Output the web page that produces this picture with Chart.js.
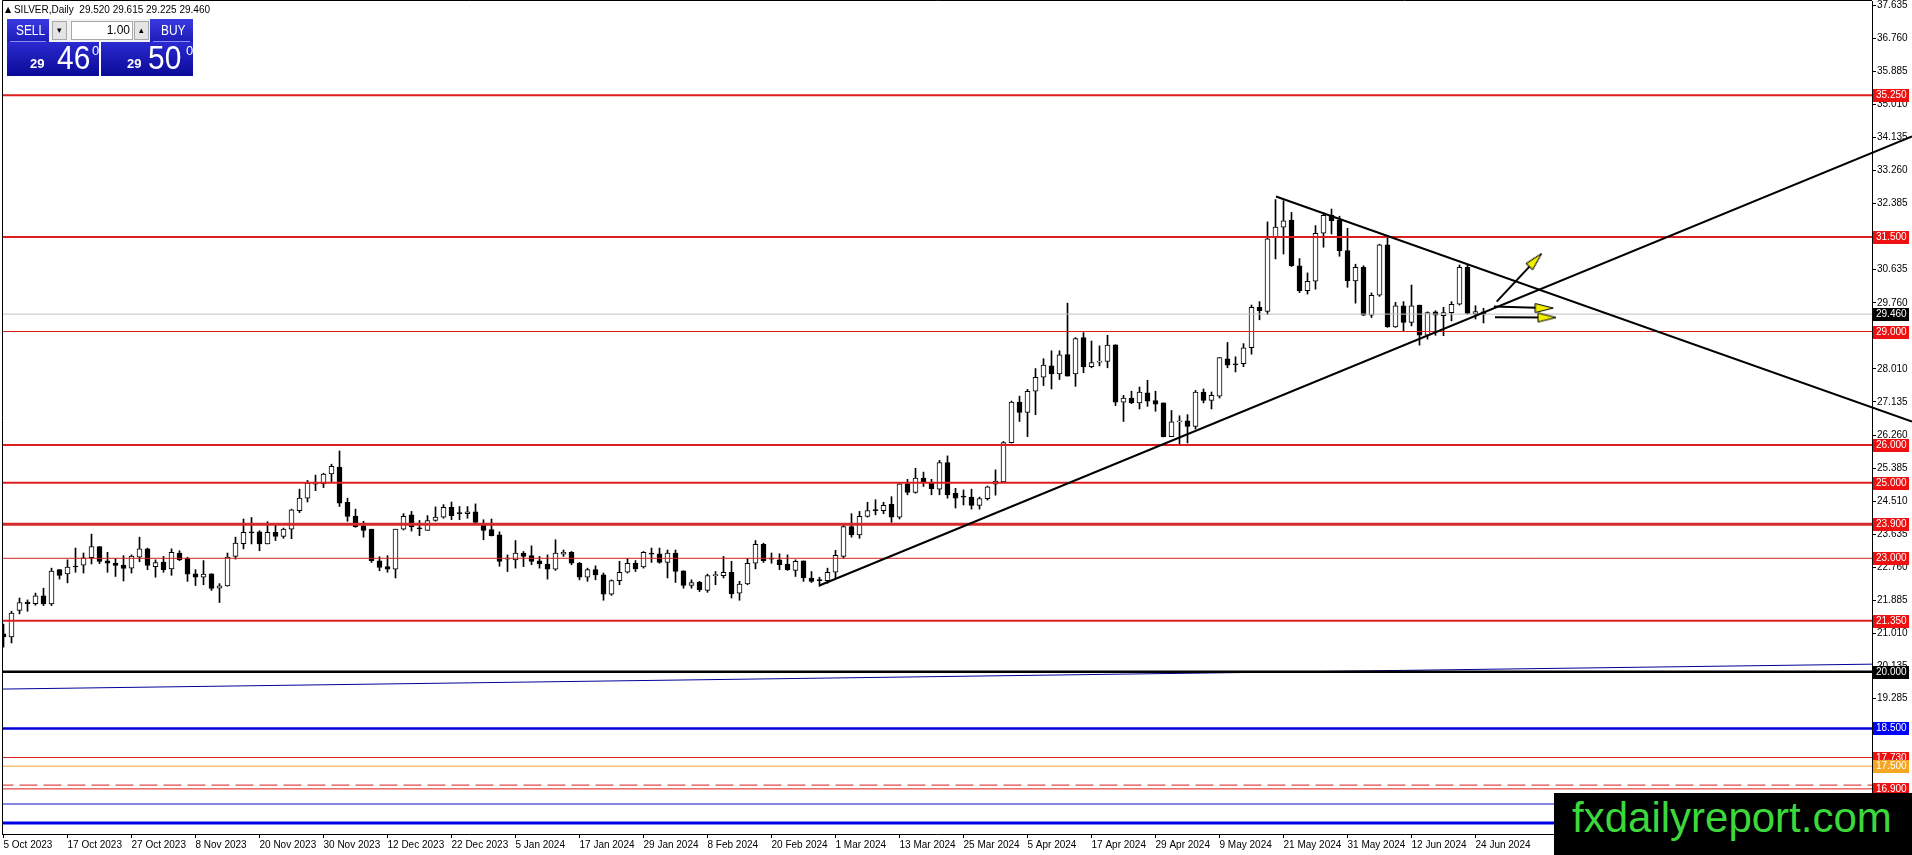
<!DOCTYPE html>
<html>
<head>
<meta charset="utf-8">
<title>SILVER, Daily</title>
<script src="https://cdn.jsdelivr.net/npm/chart.js@4.4.1/dist/chart.umd.min.js"></script>
<style>
  html, body { margin: 0; padding: 0; background: #fff; }
  body { width: 1912px; height: 855px; overflow: hidden; position: relative; font-family: "Liberation Sans", Arial, sans-serif; }
  #chart { position: absolute; left: 0; top: 0; }
  #header { position: absolute; left: 5px; top: 3px; font-size: 10px; line-height: 13px; color: #000; white-space: pre; }
  #header .tri { font-family: "DejaVu Sans", sans-serif; font-size: 8px; vertical-align: 1px; }
  #panel { position: absolute; left: 6px; top: 18px; width: 188px; height: 59px; }
  #panel .btn { position: absolute; top: 1px; height: 23px; color: #fff; background: linear-gradient(#3a3ae2, #1c1cb6); }
  #panel .btn span { position: absolute; top: 4px; font-size: 14px; line-height: 15px; transform: scaleX(0.85); transform-origin: left top; }
  #panel .btn i { position: absolute; left: 3px; right: 3px; bottom: 0; height: 1px; background: #8c8cf0; }
  #sell { left: 1px; width: 42px; }
  #sell span { left: 9px; }
  #buy { left: 144px; width: 43px; }
  #buy span { left: 11px; }
  #mid { position: absolute; left: 43px; top: 1px; width: 101px; height: 23px; background: #f2f2f2; }
  #mid .spin { position: absolute; top: 2px; width: 13px; height: 17px; background: #e4e4e4; border: 1px solid #a8a8a8; font-size: 9px; line-height: 17px; text-align: center; color: #000; }
  #dn { left: 3px; }
  #up { left: 85px; }
  #lot { position: absolute; left: 22px; top: 2px; width: 58px; height: 17px; background: #fff; border: 1px solid #a8a8a8; font-size: 12px; line-height: 17px; text-align: right; padding-right: 2px; box-sizing: content-box; }
  #panel .big { position: absolute; top: 24px; height: 34px; color: #fff; background: linear-gradient(#2a2ad0, #0a0a98); }
  #bidBox { left: 1px; width: 92px; }
  #askBox { left: 95px; width: 92px; }
  .big span { position: absolute; line-height: 1; white-space: nowrap; }
  .big .s { font-size: 13px; top: 15px; font-weight: bold; }
  .big .l { font-size: 34px; top: -2px; transform: scaleX(0.88); transform-origin: left top; }
  .big .p { font-size: 13px; top: 2px; }
  #brand { position: absolute; left: 1554px; top: 793px; width: 358px; height: 62px; background: #000; }
  #brand span { position: absolute; left: 18px; top: 4px; font-size: 42px; line-height: 42px; color: #3cd83c; white-space: nowrap; }
</style>
</head>
<body>
<canvas id="chart" width="1912" height="855"></canvas>
<div id="header"><span class="tri">&#9650;</span> SILVER,Daily  29.520 29.615 29.225 29.460</div>
<div id="panel">
  <div class="btn" id="sell"><span>SELL</span><i></i></div>
  <div id="mid">
    <div class="spin" id="dn">&#9662;</div>
    <div id="lot">1.00</div>
    <div class="spin" id="up">&#9652;</div>
  </div>
  <div class="btn" id="buy"><span>BUY</span><i></i></div>
  <div class="big" id="bidBox"><span class="s" style="left:23px">29</span><span class="l" style="left:50px">46</span><span class="p" style="left:85px">0</span></div>
  <div class="big" id="askBox"><span class="s" style="left:26px">29</span><span class="l" style="left:47px">50</span><span class="p" style="left:85px">0</span></div>
</div>
<div id="brand"><span>fxdailyreport.com</span></div>
<script>
// Daily candles, 5 Oct 2023 .. 25 Jun 2024 (bar index = position on the x axis)
var opens = [
  21.00, 20.92, 21.62, 21.84, 21.80, 22.01, 21.79, 22.70, 22.59, 22.79,
  22.82, 23.02, 23.31, 22.93, 22.87, 22.82, 22.74, 23.03, 23.25, 22.78,
  22.90, 22.72, 23.14, 23.00, 22.59, 22.50, 22.59, 22.21, 22.27, 23.05,
  23.39, 23.70, 23.70, 23.38, 23.69, 23.58, 23.77, 24.26, 24.59, 24.96,
  24.97, 25.23, 25.41, 24.48, 24.12, 23.86, 23.77, 22.93, 22.78, 22.71,
  23.77, 24.15, 23.80, 23.74, 24.00, 24.09, 24.35, 24.20, 24.18, 24.23,
  23.89, 23.76, 23.62, 22.98, 22.96, 23.14, 23.07, 22.93, 22.85, 22.71,
  23.11, 23.16, 22.87, 22.50, 22.70, 22.56, 22.05, 22.41, 22.63, 22.87,
  22.77, 23.13, 23.12, 22.89, 23.14, 22.67, 22.28, 22.37, 22.15, 22.54,
  22.54, 22.63, 22.08, 22.32, 22.87, 23.37, 23.00, 22.96, 22.85, 22.68,
  22.93, 22.48, 22.43, 22.41, 22.63, 23.05, 23.84, 23.62, 24.11, 24.27,
  24.26, 24.43, 24.09, 24.97, 24.74, 25.12, 24.99, 24.83, 25.53, 24.72,
  24.63, 24.62, 24.40, 24.58, 24.96, 25.02, 26.06, 27.13, 26.86, 27.42,
  27.79, 28.09, 27.88, 28.39, 27.88, 28.84, 28.07, 28.19, 28.21, 28.65,
  27.13, 27.24, 27.11, 27.38, 27.17, 27.11, 26.22, 26.61, 26.64, 26.49,
  27.40, 27.18, 27.29, 28.28, 28.14, 28.15, 28.57, 29.64, 29.53, 31.49,
  31.76, 31.95, 30.74, 30.08, 30.33, 31.60, 32.07, 31.95, 31.14, 30.34,
  30.70, 29.43, 29.96, 31.29, 29.12, 29.68, 29.24, 29.70, 28.90, 29.52,
  29.42, 29.50, 29.72, 30.70, 29.46, 29.52
];
var highs = [
  21.26, 21.60, 21.95, 21.90, 22.08, 22.21, 22.74, 22.70, 22.96, 23.27,
  23.14, 23.64, 23.31, 23.16, 23.00, 23.07, 23.09, 23.56, 23.27, 22.96,
  23.05, 23.25, 23.20, 23.03, 22.70, 22.94, 22.59, 22.33, 23.14, 23.56,
  24.04, 24.08, 23.73, 23.97, 23.91, 23.80, 24.30, 24.83, 25.06, 25.20,
  25.25, 25.49, 25.84, 24.59, 24.30, 23.98, 23.77, 23.04, 23.07, 23.77,
  24.18, 24.24, 24.00, 24.13, 24.36, 24.42, 24.49, 24.37, 24.37, 24.44,
  24.02, 24.04, 23.70, 23.09, 23.47, 23.18, 23.33, 23.05, 23.09, 23.49,
  23.22, 23.18, 22.89, 22.74, 22.80, 22.61, 22.43, 22.92, 23.00, 22.94,
  23.18, 23.27, 23.27, 23.22, 23.22, 22.67, 22.43, 22.39, 22.58, 22.65,
  23.05, 22.92, 22.39, 23.00, 23.47, 23.40, 23.14, 23.12, 23.09, 22.96,
  22.93, 22.65, 22.50, 22.74, 23.21, 23.89, 24.18, 24.24, 24.48, 24.55,
  24.48, 24.63, 25.00, 25.09, 25.38, 25.28, 25.09, 25.59, 25.71, 24.85,
  24.81, 24.83, 24.62, 24.91, 25.34, 26.09, 27.16, 27.29, 27.47, 28.02,
  28.28, 28.49, 28.49, 29.75, 28.84, 28.97, 28.75, 28.62, 28.90, 28.65,
  27.31, 27.42, 27.53, 27.71, 27.42, 27.11, 26.91, 26.77, 26.80, 27.44,
  27.48, 27.40, 28.31, 28.71, 28.33, 28.68, 29.70, 29.79, 31.90, 32.49,
  32.46, 32.15, 30.93, 30.55, 31.80, 32.14, 32.24, 32.05, 31.73, 30.78,
  30.74, 30.02, 31.31, 31.49, 29.77, 29.79, 30.23, 29.70, 29.52, 29.55,
  29.64, 29.79, 30.76, 30.78, 29.68, 29.615
];
var lows = [
  20.65, 20.76, 21.53, 21.60, 21.76, 21.75, 21.75, 22.45, 22.35, 22.63,
  22.61, 22.85, 22.86, 22.63, 22.52, 22.40, 22.61, 22.91, 22.70, 22.50,
  22.63, 22.55, 22.94, 22.39, 22.28, 22.30, 22.15, 21.83, 22.26, 22.98,
  23.25, 23.38, 23.20, 23.38, 23.47, 23.53, 23.52, 24.21, 24.49, 24.79,
  24.87, 25.00, 24.37, 23.98, 23.82, 23.56, 22.89, 22.67, 22.63, 22.48,
  23.75, 23.72, 23.60, 23.74, 23.98, 24.06, 24.02, 24.02, 24.06, 23.93,
  23.49, 23.59, 22.79, 22.65, 22.74, 22.78, 22.83, 22.74, 22.45, 22.68,
  23.05, 22.83, 22.43, 22.39, 22.43, 21.89, 22.02, 22.30, 22.61, 22.65,
  22.74, 22.89, 22.87, 22.48, 22.36, 22.21, 22.21, 22.12, 22.10, 22.30,
  22.48, 21.95, 21.89, 22.30, 22.72, 22.89, 22.87, 22.70, 22.68, 22.52,
  22.39, 22.36, 22.26, 22.34, 22.48, 23.00, 23.56, 23.53, 24.09, 24.15,
  24.18, 23.95, 24.04, 24.68, 24.72, 24.90, 24.68, 24.68, 24.59, 24.33,
  24.41, 24.30, 24.30, 24.54, 24.67, 25.02, 26.05, 26.62, 26.22, 26.80,
  27.57, 27.48, 27.73, 27.82, 27.55, 27.91, 28.04, 28.09, 28.04, 27.04,
  26.62, 27.09, 26.95, 27.02, 26.89, 26.21, 26.22, 25.98, 26.05, 26.42,
  27.11, 26.95, 27.24, 28.04, 27.93, 28.07, 28.40, 29.31, 29.45, 30.92,
  31.05, 30.72, 30.03, 29.99, 30.12, 31.23, 31.58, 30.99, 30.17, 29.75,
  29.42, 29.37, 29.93, 29.11, 29.11, 29.02, 29.15, 28.64, 28.80, 28.90,
  28.89, 29.28, 29.70, 29.46, 29.33, 29.225
];
var closes = [
  20.92, 21.55, 21.83, 21.80, 22.01, 21.79, 22.66, 22.55, 22.77, 22.77,
  23.01, 23.31, 22.92, 22.87, 22.81, 22.73, 23.06, 23.25, 22.81, 22.89,
  22.70, 23.16, 22.96, 22.58, 22.50, 22.58, 22.20, 22.27, 23.03, 23.40,
  23.69, 23.67, 23.38, 23.69, 23.58, 23.77, 24.28, 24.59, 24.99, 25.01,
  25.23, 25.43, 24.46, 24.11, 23.84, 23.74, 22.94, 22.76, 22.71, 23.77,
  24.11, 23.83, 23.78, 24.00, 24.09, 24.35, 24.13, 24.18, 24.23, 23.95,
  23.74, 23.60, 22.92, 23.00, 23.14, 23.05, 22.92, 22.85, 22.71, 23.14,
  23.16, 22.87, 22.50, 22.70, 22.56, 22.05, 22.41, 22.63, 22.87, 22.72,
  23.16, 23.11, 22.89, 23.14, 22.65, 22.28, 22.36, 22.17, 22.54, 22.57,
  22.63, 22.06, 22.32, 22.87, 23.37, 22.94, 22.98, 22.83, 22.70, 22.92,
  22.48, 22.39, 22.41, 22.63, 23.08, 23.84, 23.62, 24.11, 24.26, 24.26,
  24.40, 24.09, 24.97, 24.74, 25.12, 25.00, 24.84, 25.53, 24.68, 24.59,
  24.62, 24.40, 24.58, 24.89, 25.04, 26.06, 27.13, 26.86, 27.42, 27.79,
  28.11, 27.88, 28.38, 27.82, 28.81, 28.06, 28.18, 28.21, 28.64, 27.13,
  27.24, 27.11, 27.40, 27.16, 27.08, 26.22, 26.61, 26.63, 26.49, 27.40,
  27.18, 27.31, 28.31, 28.11, 28.12, 28.57, 29.64, 29.55, 31.45, 31.76,
  31.93, 30.74, 30.08, 30.33, 31.60, 32.07, 31.93, 31.14, 30.34, 30.70,
  29.43, 29.96, 31.29, 29.12, 29.68, 29.24, 29.68, 28.90, 29.50, 29.43,
  29.50, 29.72, 30.70, 29.48, 29.53, 29.46
];

// Date labels, one every 8 bars
var xLabels = ["5 Oct 2023", "17 Oct 2023", "27 Oct 2023", "8 Nov 2023", "20 Nov 2023", "30 Nov 2023",
  "12 Dec 2023", "22 Dec 2023", "5 Jan 2024", "17 Jan 2024", "29 Jan 2024", "8 Feb 2024",
  "20 Feb 2024", "1 Mar 2024", "13 Mar 2024", "25 Mar 2024", "5 Apr 2024", "17 Apr 2024",
  "29 Apr 2024", "9 May 2024", "21 May 2024", "31 May 2024", "12 Jun 2024", "24 Jun 2024"];
var xLabelStep = 8;

// Price scale ticks
var yTicks = [37.635, 36.760, 35.885, 35.010, 34.135, 33.260, 32.385, 31.510, 30.635, 29.760,
  28.885, 28.010, 27.135, 26.260, 25.385, 24.510, 23.635, 22.760, 21.885, 21.010,
  20.135, 19.285, 18.410, 17.535, 16.660];

// Horizontal levels
var levels = [35.25, 31.5, 29.46, 29.0, 26.0, 25.0, 23.9, 23.0, 21.35, 20.0, 18.5, 17.73, 17.5, 17.0, 16.9, 16.5, 16.0];
// Trend lines: [bar, price] pairs
var upperTrend = [[159.06, 32.57], [238.56, 26.62]];
var lowerTrend = [[101.98, 22.28], [238.56, 34.16]];
var longBlueLine = [[-0.19, 19.54], [233.56, 20.20]];
// Arrows: [start, head]
var arrowUp = [[186.65, 29.79], [191.5, 30.89]];
var arrowRight1 = [[186.3, 29.66], [192.6, 29.62]];
var arrowRight2 = [[186.44, 29.38], [192.94, 29.37]];
// Price tags on the right scale
var tagValues = [35.25, 31.5, 29.46, 29.0, 26.0, 25.0, 23.9, 23.0, 21.35, 20.0, 18.5, 17.73, 17.5, 16.9];

// styles for the level lines (same order as levels)
var RED = "#dc1e1e";
var levelStyles = [
  { color: RED, width: 2 }, { color: RED, width: 2 }, { color: "#c0c0c0", width: 1 },
  { color: RED, width: 1 }, { color: RED, width: 2 }, { color: RED, width: 2 },
  { color: "#d42a2a", width: 3 }, { color: RED, width: 1 }, { color: RED, width: 2 },
  { color: "#000000", width: 2.5, order: 25 }, { color: "#0000dc", width: 2.5 }, { color: RED, width: 1 },
  { color: "#f0a030", width: 1 }, { color: RED, width: 1, dash: [18, 6] }, { color: RED, width: 1 },
  { color: "#1010c8", width: 1 }, { color: "#0000e6", width: 3 }
];
var tagColors = ["#ee1111", "#ee1111", "#000000", "#ee1111", "#ee1111", "#ee1111", "#ee1111",
  "#ee1111", "#ee1111", "#000000", "#0000ff", "#ee1111", "#f5a623", "#ee1111"];

function toPoints(pairs) {
    return pairs.map(function (p) { return { x: p[0], y: p[1] }; });
}

// arrow head image, pointing up, rotated by the point rotation
function makeArrowHead() {
    var c = document.createElement("canvas");
    c.width = 20;
    c.height = 20;
    var g = c.getContext("2d");
    g.beginPath();
    g.moveTo(10, 1);
    g.lineTo(14.5, 19);
    g.lineTo(5.5, 19);
    g.closePath();
    g.fillStyle = "#f0f000";
    g.fill();
    g.strokeStyle = "#000";
    g.lineWidth = 1;
    g.stroke();
    return c;
}
var arrowHead = makeArrowHead();

// Build candle bodies and wicks
var bodyData = [], wickData = [], bodyColors = [];
for (var i = 0; i < closes.length; i++) {
    var o = opens[i], c = closes[i];
    bodyData.push({ x: i, y: [Math.min(o, c), Math.max(o, c)] });
    wickData.push({ x: i, y: [Math.min(lows[i], o, c), Math.max(highs[i], o, c)] });
    bodyColors.push(c >= o ? "#ffffff" : "#000000");
}

var datasets = [
    {
        type: "bar", label: "bodies", data: bodyData, order: 40, grouped: false,
        barThickness: 5, minBarLength: 1, backgroundColor: bodyColors,
        borderColor: "#000", borderWidth: 1, borderSkipped: false
    },
    {
        type: "bar", label: "wicks", data: wickData, order: 50, grouped: false,
        barThickness: 1, backgroundColor: "#000", borderWidth: 0
    },
    {
        type: "line", label: "long line", data: toPoints(longBlueLine), order: 35,
        borderColor: "#000099", borderWidth: 1, pointRadius: 0
    }
];

levels.forEach(function (v, k) {
    var st = levelStyles[k];
    datasets.push({
        type: "line", label: "level " + v, order: st.order || 30,
        data: [{ x: -1, y: v }, { x: 240, y: v }],
        borderColor: st.color, borderWidth: st.width, borderDash: st.dash || [],
        pointRadius: 0
    });
});

[upperTrend, lowerTrend].forEach(function (t) {
    datasets.push({
        type: "line", label: "trend", data: toPoints(t), order: 10, clip: false,
        borderColor: "#000", borderWidth: 2, pointRadius: 0
    });
});

[[arrowUp, 43], [arrowRight1, 90], [arrowRight2, 90]].forEach(function (a) {
    datasets.push({
        type: "line", label: "arrow", data: toPoints(a[0]), order: 5,
        borderColor: "#000", borderWidth: 2,
        pointRadius: [0, 8], pointStyle: arrowHead, pointRotation: [0, a[1]]
    });
});

// black frame on the top and left side of the plot
var framePlugin = {
    id: "frame",
    afterDraw: function (chart) {
        var ctx = chart.ctx, a = chart.chartArea;
        ctx.save();
        ctx.strokeStyle = "#000";
        ctx.lineWidth = 1;
        ctx.beginPath();
        ctx.moveTo(a.left + 0.5, a.bottom);
        ctx.lineTo(a.left + 0.5, 0.5);
        ctx.lineTo(a.right, 0.5);
        ctx.stroke();
        ctx.restore();
    }
};

// coloured price tags on the right scale
var tagPlugin = {
    id: "tags",
    afterDraw: function (chart) {
        var ctx = chart.ctx, y = chart.scales.y, a = chart.chartArea;
        ctx.save();
        ctx.font = "10px 'Liberation Sans', Arial, sans-serif";
        ctx.textBaseline = "middle";
        ctx.textAlign = "left";
        tagValues.forEach(function (v, k) {
            var py = Math.round(y.getPixelForValue(v));
            ctx.fillStyle = tagColors[k];
            ctx.fillRect(a.right + 1, py - 6, 36, 13);
            ctx.fillStyle = "#fff";
            ctx.fillText(v.toFixed(3), a.right + 4, py + 0.5);
        });
        ctx.restore();
    }
};

var ctx = document.getElementById("chart").getContext("2d");
new Chart(ctx, {
    type: "bar",
    data: { datasets: datasets },
    options: {
        responsive: false,
        animation: false,
        devicePixelRatio: 1,
        events: [],
        layout: { autoPadding: false, padding: { left: 2, top: 1, right: 0, bottom: 0 } },
        plugins: { legend: { display: false }, tooltip: { enabled: false } },
        scales: {
            x: {
                type: "linear",
                min: -0.1875,
                max: 233.5625,
                offset: false,
                grid: { drawOnChartArea: false, drawTicks: true, tickLength: 4, color: "#000", offset: false },
                border: { display: true, color: "#000", width: 1 },
                ticks: {
                    autoSkip: false, maxRotation: 0, align: "start", padding: 1, color: "#000",
                    font: { family: "'Liberation Sans', Arial, sans-serif", size: 10 },
                    callback: function (value, index) { return xLabels[index]; }
                },
                afterBuildTicks: function (scale) {
                    scale.ticks = xLabels.map(function (l, k) { return { value: k * xLabelStep }; });
                },
                afterFit: function (scale) {
                    scale.height = 21;
                    scale.paddingLeft = 0;
                    scale.paddingRight = 0;
                }
            },
            y: {
                type: "linear",
                position: "right",
                min: 15.7064,
                max: 37.7434,
                grid: { drawOnChartArea: false, drawTicks: true, tickLength: 4, color: "#000" },
                border: { display: true, color: "#000", width: 1 },
                ticks: {
                    autoSkip: false, padding: 1, color: "#000",
                    font: { family: "'Liberation Sans', Arial, sans-serif", size: 10 },
                    callback: function (value) { return value.toFixed(3); }
                },
                afterBuildTicks: function (scale) {
                    scale.ticks = yTicks.map(function (v) { return { value: v }; });
                },
                afterFit: function (scale) {
                    scale.width = 40;
                    scale.paddingTop = 0;
                    scale.paddingBottom = 0;
                }
            }
        }
    },
    plugins: [framePlugin, tagPlugin]
});
</script>
</body>
</html>
